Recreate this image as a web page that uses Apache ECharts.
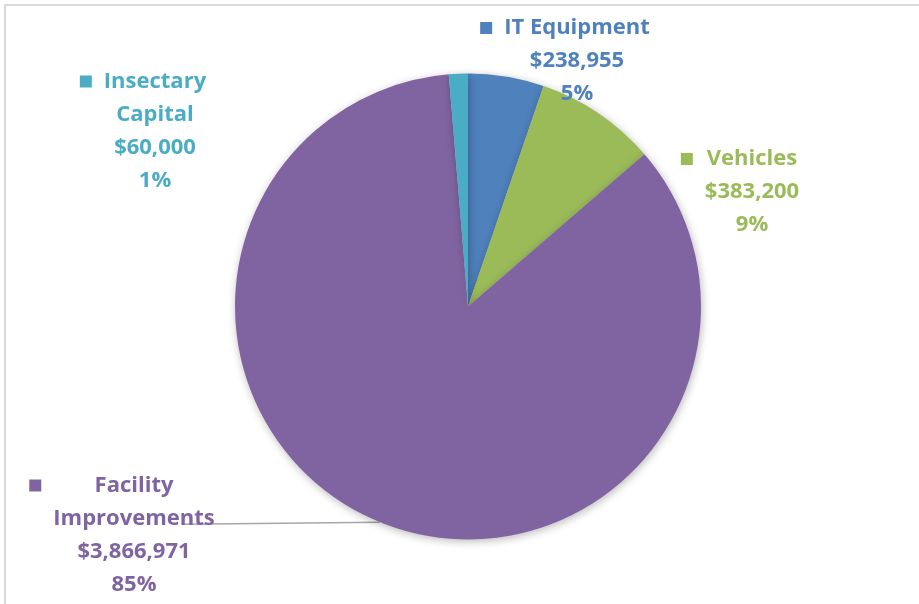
<!DOCTYPE html>
<html>
<head>
<meta charset="utf-8">
<script src="https://cdn.jsdelivr.net/npm/echarts@6/dist/echarts.min.js"></script>
<style>
  html, body { margin: 0; padding: 0; background: #ffffff; }
  #chart { width: 919px; height: 604px; }
</style>
</head>
<body>
<div id="chart"></div>
<script>
// Capital spending by category
const categories = ['IT Equipment', 'Vehicles', 'Facility\nImprovements', 'Insectary\nCapital'];
const amounts = [238955, 383200, 3866971, 60000];
const percentLabels = ['5%', '9%', '85%', '1%'];

// Styling
const palette = ['#4F81BD', '#9BBB59', '#8064A2', '#4BACC6'];
const labelCenters = [[577, 61], [752, 192], [134, 535], [155, 131]];
const leaderEndX = 183;
const FONT_FAMILY = '"Open Sans", "Noto Sans", sans-serif';
const FONT_SIZE = 22;
const FONT_WEIGHT = 'bold';
const LINE_H = 33;
const KEY = 12;       // legend key square size
const KEY_GAP = 12;   // space between key and widest line

const measure = (function () {
  const ctx = document.createElement('canvas').getContext('2d');
  ctx.font = FONT_WEIGHT + ' ' + FONT_SIZE + 'px ' + FONT_FAMILY;
  return function (s) { return ctx.measureText(s).width; };
})();

const money = v => '$' + v.toLocaleString('en-US');

const data = categories.map(function (name, i) {
  const nameLines = name.split('\n');
  const lines = nameLines.concat([money(amounts[i]), percentLabels[i]]);
  const widest = Math.max.apply(null, lines.map(measure));
  const gap = (widest - measure(nameLines[0])) / 2 + KEY_GAP;
  const textStyle = {
    color: palette[i], fontSize: FONT_SIZE, fontWeight: FONT_WEIGHT,
    fontFamily: FONT_FAMILY, lineHeight: LINE_H
  };
  const text = '{sq| }{gap| }{t|' + nameLines[0] + '}{pad| }' +
    lines.slice(1).map(l => '\n{t|' + l + '}').join('');
  return {
    name: name.replace('\n', ' '),
    value: amounts[i],
    itemStyle: { color: palette[i] },
    label: {
      formatter: text,
      rich: {
        sq: { width: KEY, height: KEY, backgroundColor: palette[i], lineHeight: LINE_H },
        gap: { width: gap, lineHeight: LINE_H },
        pad: { width: gap + KEY, lineHeight: LINE_H },
        t: textStyle
      }
    },
    labelLine: { show: i === 2 }
  };
});

const chart = echarts.init(document.getElementById('chart'), null, { renderer: 'canvas' });

chart.setOption({
  backgroundColor: '#ffffff',
  animation: false,
  graphic: [{
    type: 'rect',
    z: -1,
    shape: { x: 5, y: 5, width: 1000, height: 1000 },
    style: { fill: 'none', stroke: '#d9d9d9', lineWidth: 2 }
  }],
  series: [{
    type: 'pie',
    center: [468, 306.5],
    radius: 233,
    startAngle: 90,
    clockwise: true,
    avoidLabelOverlap: false,
    itemStyle: {
      borderWidth: 0,
      shadowBlur: 8,
      shadowColor: 'rgba(0,0,0,0.28)',
      shadowOffsetX: 1,
      shadowOffsetY: 2
    },
    label: { show: true, position: 'outside', align: 'center' },
    labelLine: {
      show: true, length: 0, length2: 0,
      lineStyle: { color: '#a6a6a6', width: 1.5 }
    },
    emphasis: { disabled: true },
    labelLayout: function (params) {
      const i = params.dataIndex;
      const c = labelCenters[i];
      const out = { x: c[0], y: c[1], align: 'center', verticalAlign: 'middle' };
      if (i === 2 && params.labelLinePoints) {
        const p0 = params.labelLinePoints[0];
        out.labelLinePoints = [p0, p0, [leaderEndX, p0[1] + 2]];
      }
      return out;
    },
    data: data
  }]
});
</script>
</body>
</html>
